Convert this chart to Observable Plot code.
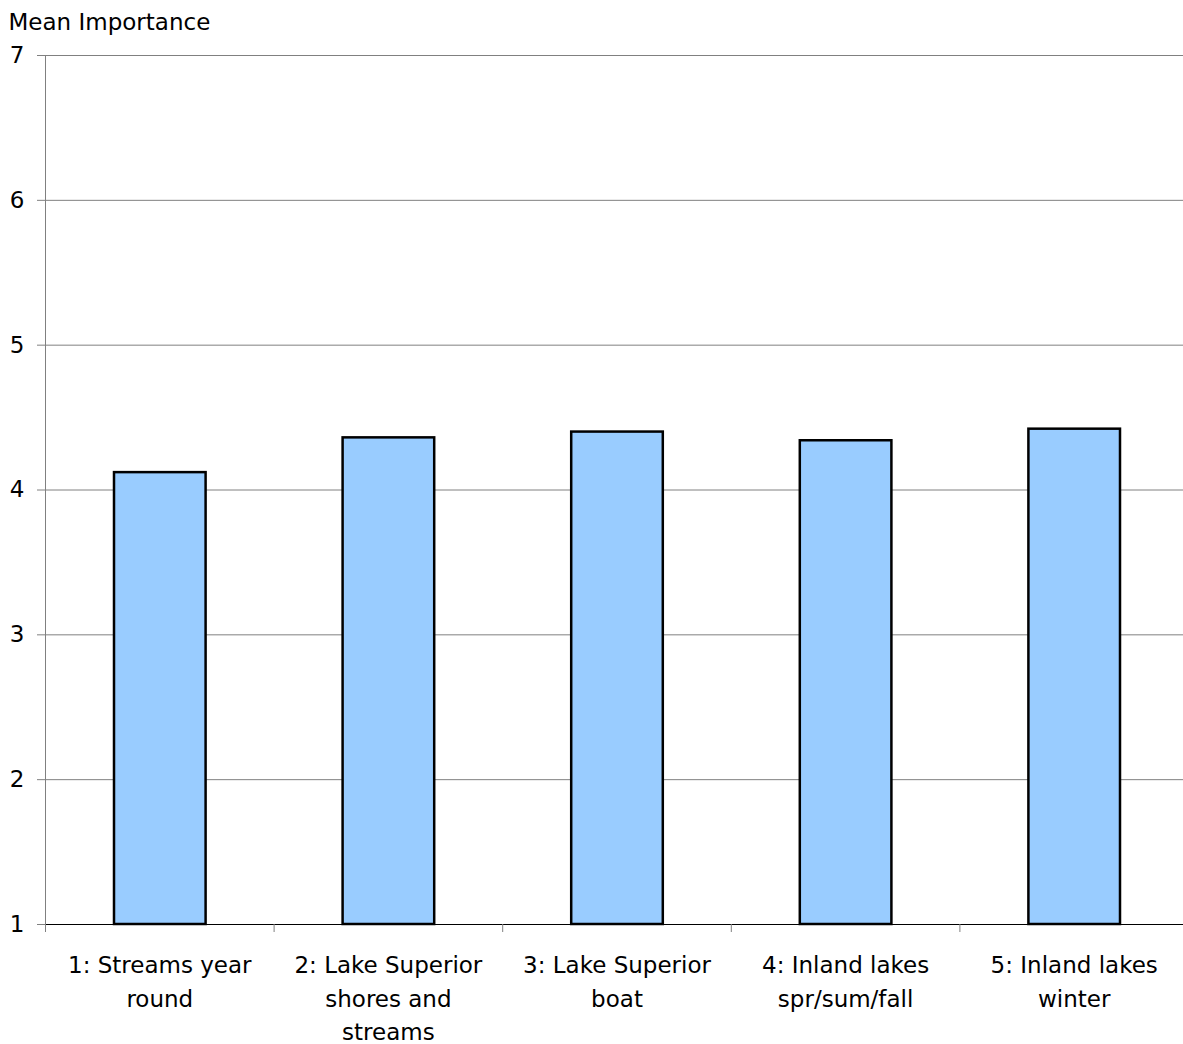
<!DOCTYPE html>
<html>
<head>
<meta charset="utf-8">
<script src="https://cdn.jsdelivr.net/npm/d3@7"></script>
<script src="https://cdn.jsdelivr.net/npm/@observablehq/plot@0.6"></script>
<style>
  html, body { margin: 0; padding: 0; background: #fff; }
</style>
</head>
<body>
<div id="chart"></div>
<script>
const categories = ["1: Streams year round", "2: Lake Superior shores and streams", "3: Lake Superior boat", "4: Inland lakes spr/sum/fall", "5: Inland lakes winter"];
const tickLabels = ["1: Streams year\nround", "2: Lake Superior\nshores and\nstreams", "3: Lake Superior\nboat", "4: Inland lakes\nspr/sum/fall", "5: Inland lakes\nwinter"];
const values = [4.12, 4.36, 4.40, 4.34, 4.42];
const yTicks = [1, 2, 3, 4, 5, 6, 7];
const yLabel = "Mean Importance";

const data = categories.map((c, i) => ({category: c, value: values[i]}));
const labelOf = new Map(categories.map((c, i) => [c, tickLabels[i]]));
const bandHalf = (1188 - 45) / categories.length / 2;

const chart = Plot.plot({
  width: 1183,
  height: 1044,
  marginLeft: 45,
  marginRight: 0,
  marginTop: 55,
  marginBottom: 120,
  style: {fontSize: "23px", fontFamily: "'DejaVu Sans', sans-serif", color: "#000", background: "#fff"},
  x: {domain: categories, range: [45, 1188], padding: 0, round: false},
  y: {domain: [1, 7]},
  marks: [
    Plot.ruleY(yTicks.filter(d => d > 1), {stroke: "#808080", strokeWidth: 1}),
    Plot.frame({anchor: "left", stroke: "#808080"}),
    Plot.barY(data, {x: "category", y1: 1, y2: "value", fill: "#99ccff", stroke: "#000", strokeWidth: 2.5, insetLeft: 69, insetRight: 68}),
    Plot.ruleY([1], {stroke: "#000", strokeWidth: 1.2}),
    Plot.ruleX(categories, {x: d => d, y1: 1, y2: 1, dx: -bandHalf, insetBottom: -8, stroke: "#808080"}),
    Plot.axisY({ticks: yTicks, tickSize: 8, tickPadding: 13, label: null, stroke: "#808080", tickFormat: d => String(d)}),
    Plot.axisX({tickSize: 0, tickPadding: 25, label: null, tickFormat: d => labelOf.get(d), lineHeight: 1.45}),
    Plot.text([yLabel], {frameAnchor: "top-left", dx: -37, dy: -33, textAnchor: "start", lineAnchor: "middle", text: d => d})
  ]
});
document.getElementById("chart").appendChild(chart);
</script>
</body>
</html>
